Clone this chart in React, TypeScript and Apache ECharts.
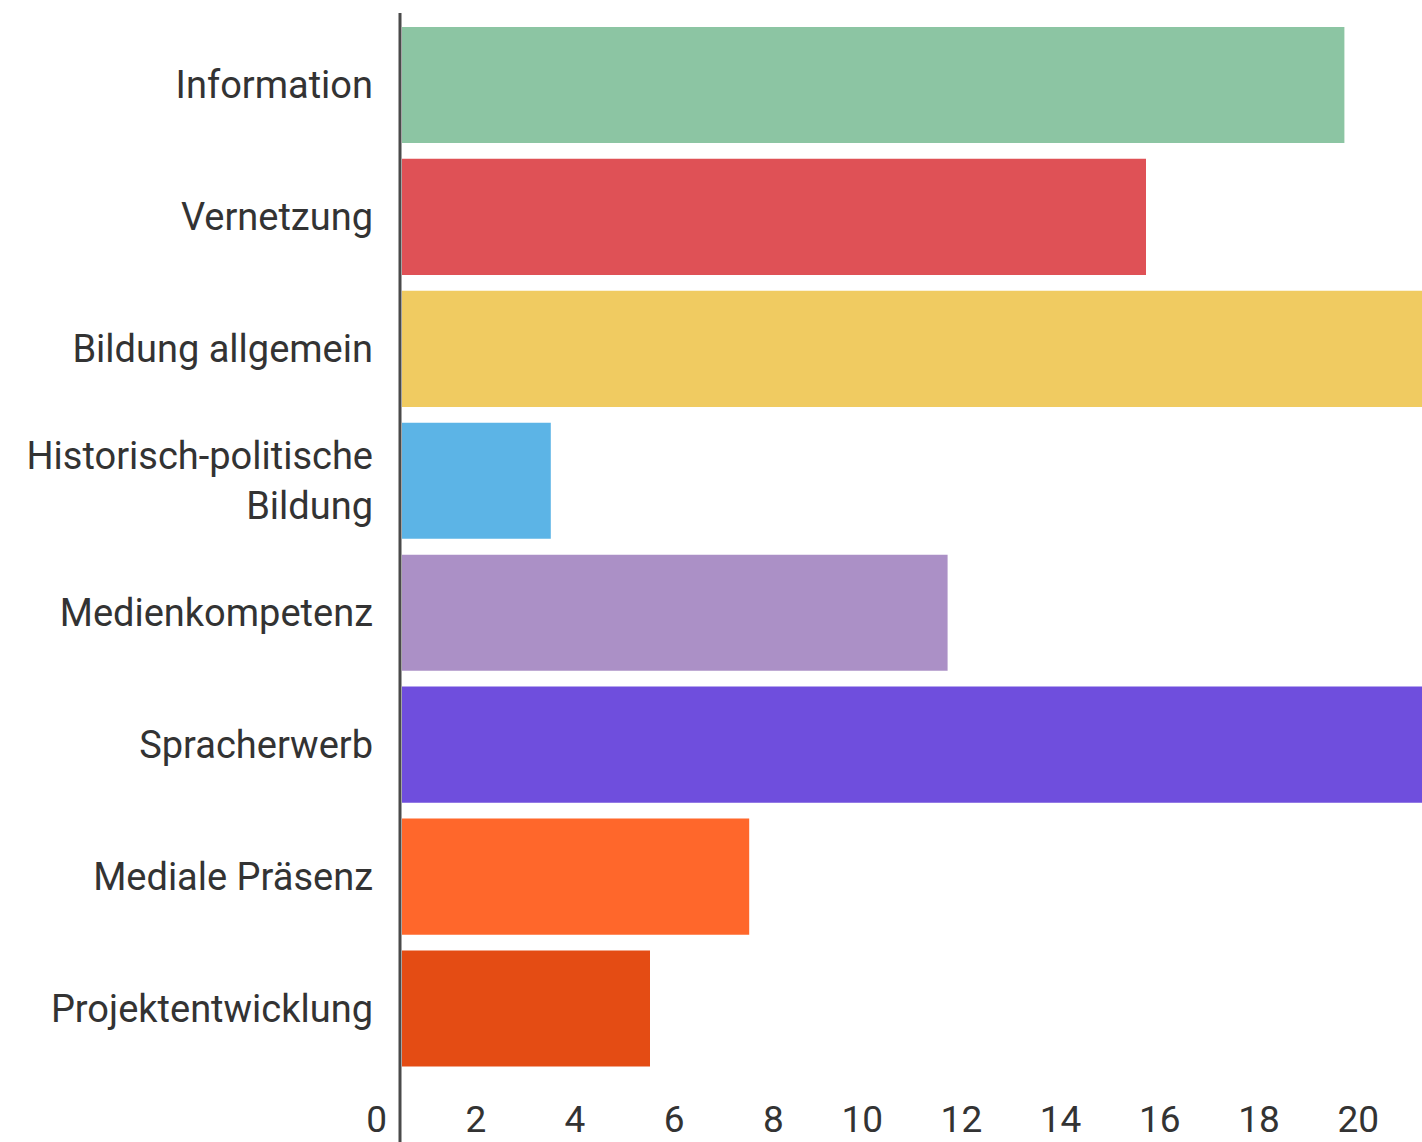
import React, { useEffect, useRef } from "react";
import * as echarts from "echarts";

const categories = [
  "Information",
  "Vernetzung",
  "Bildung allgemein",
  "Historisch-politische\nBildung",
  "Medienkompetenz",
  "Spracherwerb",
  "Mediale Präsenz",
  "Projektentwicklung",
];
const values = [19, 15, 23, 3, 11, 23, 7, 5];
const colors = [
  "#8cc5a3",
  "#df5156",
  "#f0cb61",
  "#5cb4e6",
  "#ab90c6",
  "#6f4edd",
  "#ff672b",
  "#e44c14",
];
const xTickInterval = 2;

export default function App() {
  const ref = useRef<HTMLDivElement>(null);
  useEffect(() => {
    if (!ref.current) return;
    const chart = echarts.init(ref.current, undefined, { renderer: "svg" });
    const unit = 49.6;
    const left = 402;
    const xMax = (1422 - left) / unit;
    chart.setOption({
      animation: false,
      grid: { left, right: 0, top: 19, bottom: 67.5, containLabel: false },
      xAxis: {
        type: "value",
        min: 0,
        max: xMax,
        interval: xTickInterval,
        axisLine: { show: false },
        axisTick: { show: false },
        splitLine: { show: false },
        axisLabel: {
          showMaxLabel: false,
          align: "right",
          padding: [0, 15, 0, 0],
          margin: 26,
          fontFamily: "Roboto",
          fontSize: 37,
          color: "#333333",
        },
      },
      yAxis: {
        type: "category",
        data: categories,
        inverse: true,
        axisLine: { show: false },
        axisTick: { show: false },
        axisLabel: {
          margin: 29,
          fontFamily: "Roboto",
          fontSize: 38,
          lineHeight: 50,
          color: "#333333",
          align: "right",
        },
      },
      series: [
        {
          type: "bar",
          barWidth: "88%",
          clip: true,
          data: values.map((v, i) => ({ value: v, itemStyle: { color: colors[i] } })),
        },
      ],
      graphic: [
        {
          type: "line",
          shape: { x1: 400, y1: 13, x2: 400, y2: 1142 },
          style: { stroke: "#4a4a4a", lineWidth: 3 },
          z: 100,
        },
      ],
    });
    return () => chart.dispose();
  }, []);
  return (
    <div
      ref={ref}
      style={{ position: "absolute", left: 0, top: 0, width: 1422, height: 1142, background: "#fff" }}
    />
  );
}
